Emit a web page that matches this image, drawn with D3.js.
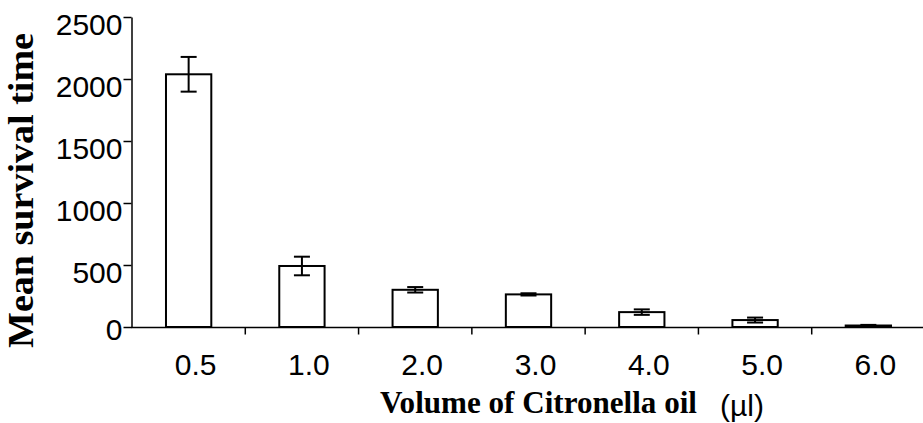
<!DOCTYPE html>
<html><head><meta charset="utf-8">
<script src="https://cdn.jsdelivr.net/npm/d3@7"></script>
<style>body{margin:0;background:#fff}svg{display:block}</style>
</head><body>
<script>
const categories = ["0.5","1.0","2.0","3.0","4.0","5.0","6.0"];
const means = [2038, 492, 300, 263, 120, 56, 12];
const errors = [140, 75, 22, 9, 22, 20, 5];
const yTicks = [0, 500, 1000, 1500, 2000, 2500];

const W = 923, H = 423;
const svg = d3.select("body").append("svg").attr("width", W).attr("height", H);
const x = d3.scaleBand().domain(categories).range([132, 925]).paddingInner(0.6).paddingOuter(0.3);
const y = d3.scaleLinear().domain([0, 2500]).range([327, 17]);

// bars
svg.selectAll("rect.bar").data(categories).enter().append("rect")
  .attr("x", d => x(d)).attr("width", x.bandwidth())
  .attr("y", (d,i) => y(means[i])).attr("height", (d,i) => y(0) - y(means[i]))
  .attr("fill", "#fff").attr("stroke", "#000").attr("stroke-width", 2);

// error bars
const cap = 8;
categories.forEach((c,i) => {
  const cx = x(c) + x.bandwidth()/2;
  const g = svg.append("g").attr("stroke", "#000").attr("stroke-width", 2);
  g.append("line").attr("x1", cx).attr("x2", cx).attr("y1", y(means[i]+errors[i])).attr("y2", y(means[i]-errors[i]));
  g.append("line").attr("x1", cx-cap).attr("x2", cx+cap).attr("y1", y(means[i]+errors[i])).attr("y2", y(means[i]+errors[i]));
  g.append("line").attr("x1", cx-cap).attr("x2", cx+cap).attr("y1", y(means[i]-errors[i])).attr("y2", y(means[i]-errors[i]));
});

// y axis
const ya = svg.append("g").attr("transform", "translate(131.5,0)")
  .call(d3.axisLeft(y).tickValues(yTicks).tickFormat(d3.format("d")).tickSize(8).tickPadding(1).tickSizeOuter(0));
ya.attr("font-size", null).attr("font-family", null);
ya.select(".domain").attr("stroke-width", 1.5);
ya.selectAll(".tick line").attr("stroke-width", 1.5);
ya.selectAll("text").attr("font-family", "Liberation Sans, Arial, sans-serif").attr("font-size", 30).attr("fill", "#000")
  .attr("dy", d => d === 0 ? 12 : 17);

// x axis with ticks at band boundaries
const xa = svg.append("g").attr("transform", "translate(0,327.5)");
xa.append("line").attr("x1", 131).attr("x2", 923).attr("stroke", "#000").attr("stroke-width", 1.5);
const step = x.step();
xa.selectAll("line.t").data(categories.slice(1)).enter().append("line")
  .attr("x1", c => x(c) - (step - x.bandwidth())/2).attr("x2", c => x(c) - (step - x.bandwidth())/2)
  .attr("y1", 0).attr("y2", 7).attr("stroke", "#000").attr("stroke-width", 1.5);
xa.selectAll("text").data(categories).enter().append("text")
  .attr("x", c => x(c) + x.bandwidth()/2 + 7).attr("y", 47.5)
  .attr("text-anchor", "middle").attr("font-family", "Liberation Sans, Arial, sans-serif").attr("font-size", 30)
  .text(c => c);

// titles
svg.append("text").attr("x", 538.5).attr("y", 413).attr("text-anchor", "middle")
  .attr("font-family", "Liberation Serif, Times New Roman, serif").attr("font-weight", "bold").attr("font-size", 32)
  .attr("textLength", 317).attr("lengthAdjust", "spacingAndGlyphs")
  .text("Volume of Citronella oil");
svg.append("text").attr("x", 742).attr("y", 416).attr("text-anchor", "middle")
  .attr("font-family", "Liberation Sans, Arial, sans-serif").attr("font-size", 30)
  .text("(µl)");
svg.append("text").attr("transform", "translate(33,190.5) rotate(-90)").attr("text-anchor", "middle")
  .attr("font-family", "Liberation Serif, Times New Roman, serif").attr("font-weight", "bold").attr("font-size", 35)
  .attr("textLength", 315).attr("lengthAdjust", "spacingAndGlyphs")
  .text("Mean survival time");
</script>
</body></html>
